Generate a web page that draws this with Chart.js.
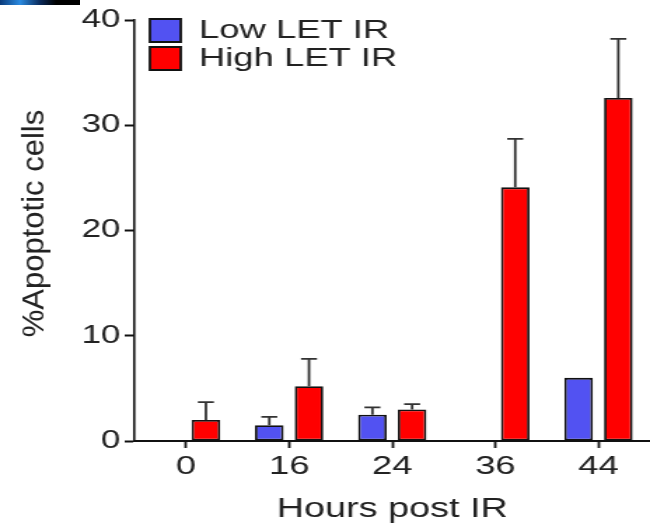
<!DOCTYPE html>
<html>
<head>
<meta charset="utf-8">
<script src="https://cdn.jsdelivr.net/npm/chart.js@4.4.0/dist/chart.umd.min.js"></script>
<style>
  html, body { margin: 0; padding: 0; background: #fff; }
  #wrap { position: relative; width: 650px; height: 530px; overflow: hidden; }
  /* the source figure is stretched sideways, so the canvas is too */
  #apoptosisChart { display: block; width: 464px; height: 530px;
                    transform: scaleX(1.4009); transform-origin: 0 0; }
  #corner { position: absolute; left: 0; top: 0; width: 80px; height: 5px;
            background: linear-gradient(90deg, #0a3a7a 0%, #2a8ae0 25%, #0a2a5a 50%, #000 70%); }
</style>
</head>
<body>
<div id="wrap">
  <canvas id="apoptosisChart" width="464" height="530"></canvas>
  <div id="corner"></div>
</div>
<script>
// data
const hours = ['0', '16', '24', '36', '44'];
const lowLet = [null, 1.5, 2.5, null, 6.0];
const lowLetErr = [null, 0.8, 0.7, null, null];
const highLet = [2.0, 5.2, 3.0, 24.1, 32.6];
const highLetErr = [1.7, 2.6, 0.5, 4.6, 5.6];
const yTicks = [0, 10, 20, 30, 40];
const yTitle = '%Apoptotic cells';

const STRETCH = 1.4009;
const FONT = 'Liberation Sans';

// upward error bars on top of each bar
const errorBars = {
    id: 'errorBars',
    afterDatasetsDraw(chart) {
        const ctx = chart.ctx;
        const yScale = chart.scales.y;
        chart.data.datasets.forEach(function(ds, i) {
            chart.getDatasetMeta(i).data.forEach(function(bar, j) {
                const v = ds.data[j];
                const e = ds.errors[j];
                if (v == null || e == null) return;
                const yTop = yScale.getPixelForValue(v);
                const yErr = yScale.getPixelForValue(v + e);
                ctx.save();
                ctx.strokeStyle = '#333';
                ctx.lineWidth = 1.8;
                ctx.beginPath();
                ctx.moveTo(bar.x, yTop);
                ctx.lineTo(bar.x, yErr);
                ctx.moveTo(bar.x - 5.7, yErr);
                ctx.lineTo(bar.x + 5.7, yErr);
                ctx.stroke();
                ctx.restore();
            });
        });
    }
};

// y title drawn un-stretched (it is not widened in the source)
const yTitlePlugin = {
    id: 'yTitlePlugin',
    afterDraw(chart) {
        const ctx = chart.ctx;
        const area = chart.chartArea;
        ctx.save();
        ctx.translate(chart.scales.y.left + 25, (area.top + area.bottom) / 2 - 7);
        ctx.scale(1 / STRETCH, 1);
        ctx.rotate(-Math.PI / 2);
        ctx.font = '31px "' + FONT + '"';
        ctx.fillStyle = '#222';
        ctx.textAlign = 'center';
        ctx.textBaseline = 'middle';
        ctx.fillText(yTitle, 0, 0);
        ctx.restore();
    }
};

// nudge the legend to where it sits in the figure
const legendSpot = {
    id: 'legendSpot',
    beforeDraw(chart) {
        const lg = chart.legend;
        const dx = 105 - lg.left;
        const dy = 15.5 - lg.top;
        lg.left += dx; lg.right += dx;
        lg.top += dy; lg.bottom += dy;
    }
};

document.addEventListener('DOMContentLoaded', function() {
    const ctx = document.getElementById('apoptosisChart');
    new Chart(ctx, {
        type: 'bar',
        data: {
            labels: hours,
            datasets: [{
                label: 'Low LET IR',
                data: lowLet,
                errors: lowLetErr,
                backgroundColor: '#5252f2',
                borderColor: '#111',
                borderWidth: 1.8,
                borderSkipped: false,
                barPercentage: 0.72,
                categoryPercentage: 0.77
            }, {
                label: 'High LET IR',
                data: highLet,
                errors: highLetErr,
                backgroundColor: '#ff0000',
                borderColor: '#111',
                borderWidth: 1.8,
                borderSkipped: false,
                barPercentage: 0.72,
                categoryPercentage: 0.77
            }]
        },
        options: {
            responsive: false,
            animation: false,
            devicePixelRatio: 1,
            layout: { padding: { top: 20, right: 0, left: 0, bottom: 0 } },
            plugins: {
                legend: {
                    position: 'chartArea',
                    align: 'start',
                    labels: {
                        boxWidth: 22,
                        boxHeight: 23,
                        padding: 2,
                        color: '#222',
                        font: { family: FONT, size: 26 }
                    }
                },
                tooltip: { enabled: false }
            },
            scales: {
                x: {
                    grid: { display: true, drawOnChartArea: false, offset: false,
                            tickLength: 7, tickWidth: 1.8, color: '#111' },
                    border: { display: true, color: '#111', width: 2 },
                    ticks: { color: '#222', padding: 3,
                             font: { family: FONT, size: 26 } },
                    title: { display: true, text: 'Hours post IR', color: '#222',
                             padding: { top: 8 },
                             font: { family: FONT, size: 27 } },
                    afterFit: function(s) { s.height = 89; }
                },
                y: {
                    min: 0,
                    max: 40,
                    afterBuildTicks: function(s) { s.ticks = yTicks.map(function(v) { return { value: v }; }); },
                    grid: { display: true, drawOnChartArea: false,
                            tickLength: 7, tickWidth: 2, color: '#111' },
                    border: { display: true, color: '#111', width: 1.6 },
                    ticks: { color: '#222', padding: 3,
                             font: { family: FONT, size: 25 } },
                    title: { display: false },
                    afterFit: function(s) { s.width = 96; }
                }
            }
        },
        plugins: [errorBars, yTitlePlugin, legendSpot]
    });
});
</script>
</body>
</html>
